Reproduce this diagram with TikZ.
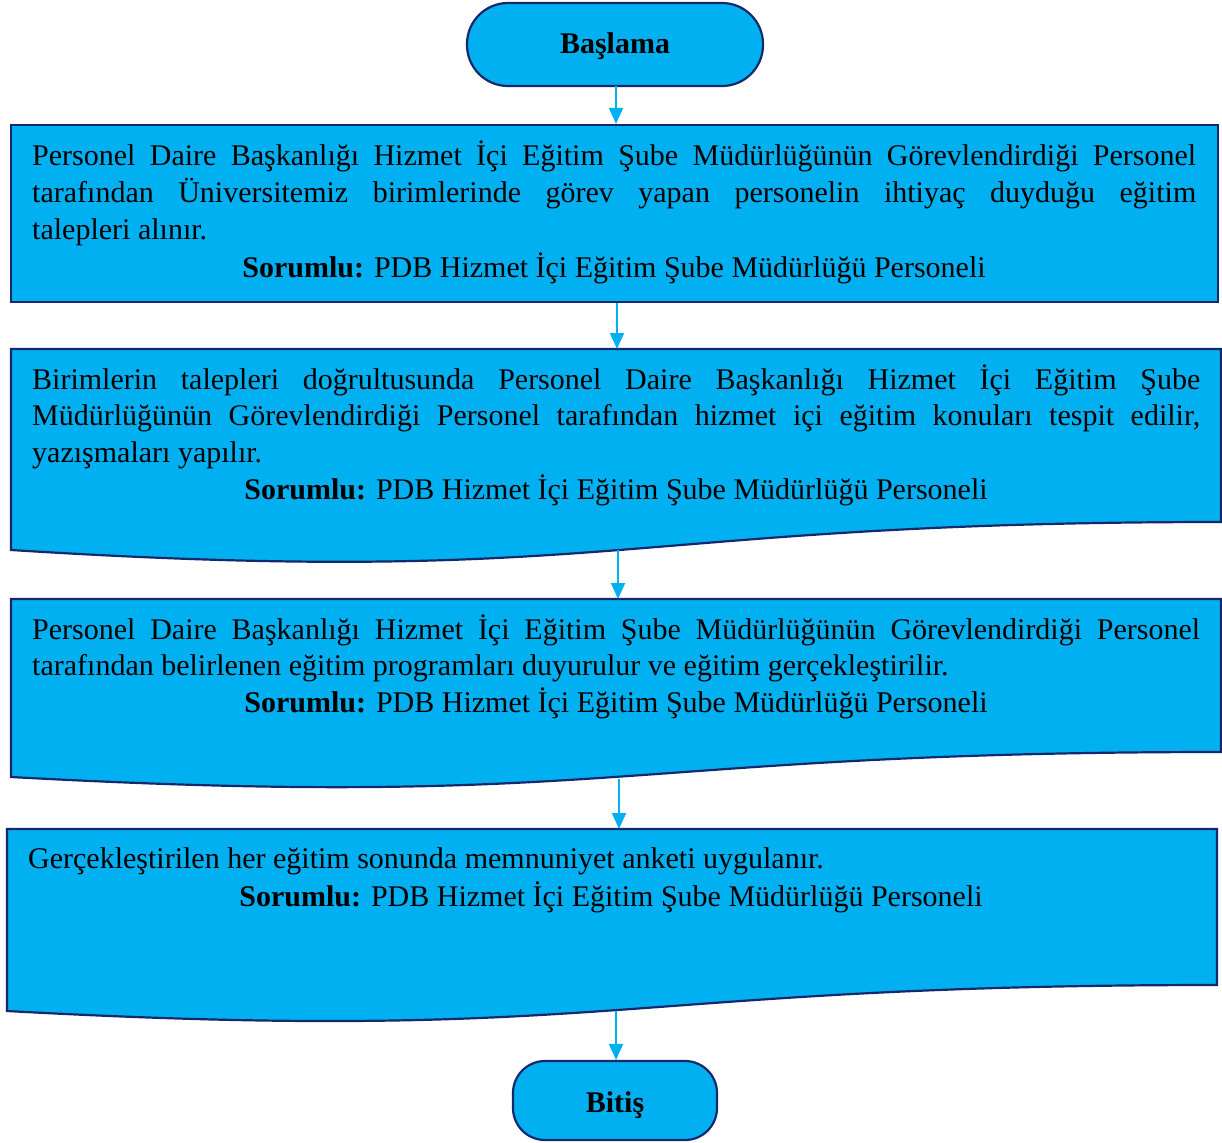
\documentclass[tikz,border=0pt]{standalone}
\usepackage{fontspec}
\setmainfont{Liberation Serif}
\usetikzlibrary{arrows.meta}
\definecolor{boxfill}{HTML}{00B0F0}
\definecolor{boxline}{HTML}{13296B}
\definecolor{arrowc}{HTML}{00B0F0}
\tikzset{
  shapebox/.style={draw=boxline, fill=boxfill, line width=2.2pt},
  termbox/.style={shapebox, rectangle, inner sep=0pt, text depth=6pt, font=\fontsize{30}{36}\selectfont\bfseries},
  para/.style={inner sep=0pt, align=justify, anchor=base west, font=\fontsize{30}{36.7}\selectfont},
  resp/.style={inner sep=0pt, anchor=base, font=\fontsize{30}{36.7}\selectfont},
  flowarrow/.style={draw=arrowc, line width=2pt, -{Triangle[width=14pt,length=16pt]}},
}
\begin{document}
\begin{tikzpicture}[x=1pt,y=-1pt]
\useasboundingbox (0,0) rectangle (1222,1142);

% terminals
\node[termbox, text height=25pt, minimum width=296pt, minimum height=83pt, rounded corners=41pt] (start) at (615,44.5) {Başlama};
\node[termbox, text height=29pt, minimum width=204pt, minimum height=79pt, rounded corners=32pt] (end) at (615,1100.5) {Bitiş};

% box 1 (process)
\node[shapebox, rectangle, inner sep=0pt, minimum width=1207pt, minimum height=177pt] (b1) at (614.5,213.5) {};

% box 2 (document)
\path[shapebox] (11,349) -- (1221,349) -- (1221,522) .. controls (616,522) and (616,588) .. (11,550) -- cycle;
\coordinate (b2top) at (617,349);
\coordinate (b2bot) at (618,550);

% box 3 (document)
\path[shapebox] (11,599) -- (1221,599) -- (1221,752) .. controls (616,752) and (616,810) .. (11,777) -- cycle;
\coordinate (b3top) at (618,599);
\coordinate (b3bot) at (619,779);

% box 4 (document)
\path[shapebox] (7,829) -- (1217,829) -- (1217,985) .. controls (612,985) and (612,1044) .. (7,1011) -- cycle;
\coordinate (b4top) at (619,829);
\coordinate (b4bot) at (616,1011);

% texts
\node[para, text width=1164pt] (t1) at (32,166) {Personel Daire Başkanlığı Hizmet İçi Eğitim Şube Müdürlüğünün Görevlendirdiği Personel\linebreak tarafından Üniversitemiz birimlerinde görev yapan personelin ihtiyaç duyduğu eğitim\linebreak talepleri alınır.};
\node[resp] (r1) at (614,277) {\textbf{Sorumlu:} PDB Hizmet İçi Eğitim Şube Müdürlüğü Personeli};

\node[para, text width=1168pt] (t2) at (32,389) {Birimlerin talepleri doğrultusunda Personel Daire Başkanlığı Hizmet İçi Eğitim Şube\linebreak Müdürlüğünün Görevlendirdiği Personel tarafından hizmet içi eğitim konuları tespit edilir,\linebreak yazışmaları yapılır.};
\node[resp] (r2) at (616,499) {\textbf{Sorumlu:} PDB Hizmet İçi Eğitim Şube Müdürlüğü Personeli};

\node[para, text width=1168pt] (t3) at (32,639) {Personel Daire Başkanlığı Hizmet İçi Eğitim Şube Müdürlüğünün Görevlendirdiği Personel\linebreak tarafından belirlenen eğitim programları duyurulur ve eğitim gerçekleştirilir.};
\node[resp] (r3) at (616,712) {\textbf{Sorumlu:} PDB Hizmet İçi Eğitim Şube Müdürlüğü Personeli};

\node[resp, anchor=base west] (t4) at (28,868) {Gerçekleştirilen her eğitim sonunda memnuniyet anketi uygulanır.};
\node[resp] (r4) at (611,906) {\textbf{Sorumlu:} PDB Hizmet İçi Eğitim Şube Müdürlüğü Personeli};

% connectors
\coordinate (s1) at (616,86);
\draw[flowarrow] (s1) -- (s1 |- b1.north);
\draw[flowarrow] (b2top |- b1.south) -- (b2top);
\draw[flowarrow] (b2bot) -- (b2bot |- b3top);
\draw[flowarrow] (b3bot) -- (b3bot |- b4top);
\draw[flowarrow] (b4bot) -- (b4bot |- end.north);
\end{tikzpicture}
\end{document}
